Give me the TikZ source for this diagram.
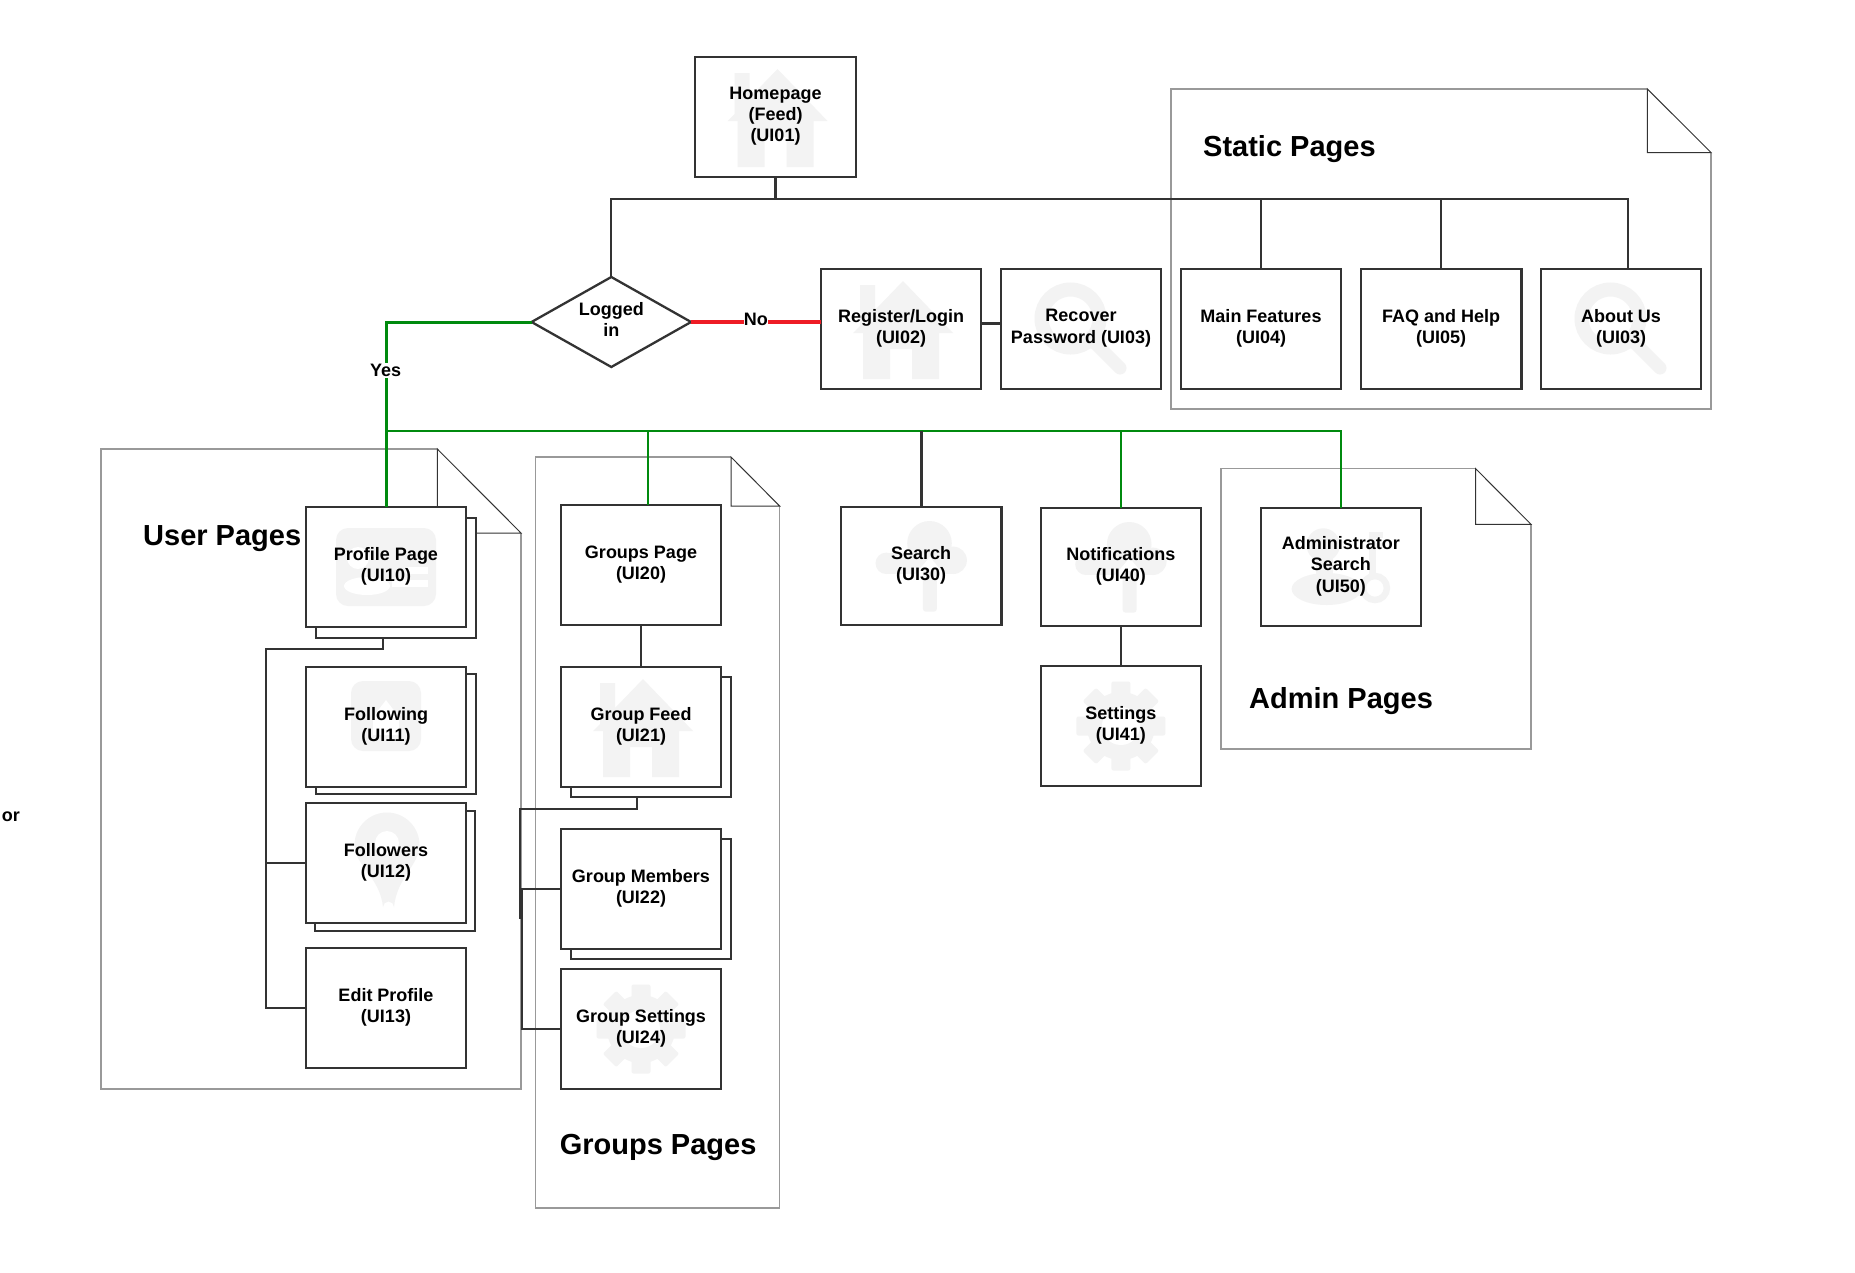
\documentclass[tikz,border=0pt]{standalone}
\usepackage{fontspec}
\setmainfont{Liberation Sans}
\usetikzlibrary{shapes.geometric}

\definecolor{linedark}{HTML}{333333}
\definecolor{sheetgray}{HTML}{999999}
\definecolor{ghost}{HTML}{F3F3F3}
\definecolor{yesgreen}{HTML}{008A0E}
\definecolor{nored}{HTML}{EE1C25}

\newcommand{\foldsheet}[6]{
    \fill[white] (#5,#2) -- (#1,#2) -- (#1,#4) -- (#3,#4) -- (#3,#6) -- cycle;
    \draw[sheet] (#5,#2) -- (#1,#2) -- (#1,#4) -- (#3,#4) -- (#3,#6);
    \draw[foldline] (#5,#2) -- (#3,#6) -- (#5,#6) -- cycle;
}
\newcommand{\uipage}[5][]{
    \node[uibox, #1] (#2) at (#3) {};
    \pic at (#2) {#4};
    \node[boxtext] (#2text) at (#2) {#5};
}

\tikzset{
    uibox/.style={draw=linedark, fill=white, line width=2.3pt, inner sep=0pt, outer sep=0pt,
        minimum width=160.5pt, minimum height=120.5pt},
    boxtext/.style={inner sep=0pt, yshift=0.7pt, align=center, font=\bfseries\fontsize{18}{21.3}\selectfont},
    stacked/.style={draw=linedark, fill=white, line width=2.3pt, inner sep=0pt, outer sep=0pt,
        minimum width=160.5pt, minimum height=120pt},
    decision/.style={uibox, shape=diamond, minimum width=159.5pt, minimum height=90pt},
    title/.style={anchor=base west, inner sep=0pt, font=\bfseries\fontsize{29}{32}\selectfont},
    edgetext/.style={fill=white, inner sep=1pt, font=\bfseries\fontsize{18}{21.6}\selectfont},
    link/.style={draw=linedark, line width=2.2pt},
    yesthick/.style={draw=yesgreen, line width=3pt},
    yesthin/.style={draw=yesgreen, line width=2pt},
    nolink/.style={draw=nored, line width=3.2pt},
    sheet/.style={draw=sheetgray, line width=1.6pt},
    foldline/.style={draw=linedark, line width=1pt, fill=white},
    blankicon/.pic={},
    houseicon/.pic={
        \fill[ghost] (2,-48) -- (52,4) -- (38,4) -- (38,50) -- (11,50) -- (11,20) -- (-11,20) -- (-11,50) -- (-38,50) -- (-38,4) -- (-48,4) -- (-41,-3) -- (-41,-44) -- (-26,-44) -- (-26,-19) -- cycle;
    },
    lensicon/.pic={
        \draw[ghost, line width=14pt] (-10.5,-10.5) circle (29);
        \draw[ghost, line width=13pt, line cap=round] (11,11) -- (39,39);
    },
    cardicon/.pic={
        \fill[ghost, rounded corners=12pt] (-50,-39) rectangle (50,39);
        \fill[white] (-28,-9) circle (11);
        \fill[white] (-19,19) ellipse (23 and 9);
        \fill[white] (6,13) rectangle (42,20);
        \fill[white] (20,0) rectangle (42,7);
    },
    followicon/.pic={
        \fill[ghost, rounded corners=12pt] (-35,-46) rectangle (35,24);
        \fill[white] (0,-27) -- (13,-10) -- (13,8) -- (-13,8) -- (-13,-10) -- cycle;
    },
    pinicon/.pic={
        \fill[ghost] (-31.5,-18) arc (180:360:32.5) .. controls (33.5,2) and (11,14) .. (8,44) arc (360:180:5.5) .. controls (-6,14) and (-31.5,2) .. cycle;
        \fill[white] (1,-20) circle (12);
    },
    cloudicon/.pic={
        \fill[ghost] (8.3,-22.7) circle (22.3);
        \fill[ghost] (-35,-2.7) circle (10.7);
        \fill[ghost] (32,-5.7) circle (13.7);
        \fill[ghost] (-35,-13) rectangle (32,8);
        \fill[white] (8.7,-9) -- (23,8) -- (-6,8) -- cycle;
        \fill[ghost, rounded corners=3pt] (1.7,4) rectangle (15.7,45.7);
    },
    gearicon/.pic={
        \fill[ghost] (0,0) circle (34);
        \foreach \gearangle in {0,45,...,315}
            \fill[ghost, rounded corners=2pt, rotate=\gearangle] (-9.5,-44.5) rectangle (9.5,-28);
        \fill[white] (0,0) circle (19);
    },
    adminicon/.pic={
        \fill[ghost] (-17.7,-22) circle (16.7);
        \fill[ghost] (-14.3,22) ellipse (35 and 16);
        \fill[ghost] (-25,-10) rectangle (-8,14);
        \draw[ghost, line width=6.5pt] (34,21) circle (12);
        \fill[ghost] (28,-35) rectangle (35,10);
        \fill[ghost] (35,-35) rectangle (42,-29);
        \fill[ghost] (35,-24) rectangle (41,-19);
    }
}

\begin{document}
\begin{tikzpicture}[x=1pt, y=-1pt]
                        \useasboundingbox (0,0) rectangle (1855,1272);

                        \foldsheet{1170.7}{89}{1711}{409}{1647.4}{152.5}
                        \foldsheet{101}{449}{521}{1089}{437.3}{533}
                        \foldsheet{535.3}{457}{779.6}{1208}{731}{506}
                        \foldsheet{1221}{468.5}{1531}{748.7}{1475.5}{524.3}

                        \node[title] (statictitle) at (1203,156) {Static Pages};
                        \node[title] (usertitle) at (143,545) {User Pages};
                        \node[title] (groupstitle) at (559.6,1154) {Groups Pages};
                        \node[title] (admintitle) at (1249,708.5) {Admin Pages};
                        \node[edgetext, fill=none, anchor=east] (cutoff) at (21,817) {or};

                        \uipage{ui01}{775.5,117}{houseicon}{Homepage\\(Feed)\\(UI01)}
                        \node[decision] (logged) at (611.3,322) {};
                        \node[boxtext, yshift=2pt] (loggedtext) at (logged) {Logged\\in};
                        \uipage{ui02}{901,329}{houseicon}{Register/Login\\(UI02)}
                        \uipage{ui03}{1081,329}{lensicon}{Recover\\Password (UI03)}
                        \uipage{ui04}{1261,329}{blankicon}{Main Features\\(UI04)}
                        \uipage{ui05}{1441.2,329}{blankicon}{FAQ and Help\\(UI05)}
                        \uipage{ui06}{1621,329}{lensicon}{About Us\\(UI03)}

                        \node[stacked] (ui10s) at (396,578) {};
                        \node[stacked] (ui11s) at (396,733.8) {};
                        \node[stacked] (ui12s) at (395,871) {};
                        \uipage{ui10}{386,567}{cardicon}{Profile Page\\(UI10)}
                        \uipage{ui11}{386,727}{followicon}{Following\\(UI11)}
                        \uipage{ui12}{386,863}{pinicon}{Followers\\(UI12)}
                        \uipage{ui13}{386,1008}{blankicon}{Edit Profile\\(UI13)}

                        \uipage{ui20}{641,565}{blankicon}{Groups Page\\(UI20)}
                        \node[stacked] (ui21s) at (651,737) {};
                        \node[stacked] (ui22s) at (651,899) {};
                        \uipage{ui21}{641,727}{houseicon}{Group Feed\\(UI21)}
                        \uipage{ui22}{641,889}{blankicon}{Group Members\\(UI22)}
                        \uipage{ui24}{641,1029}{gearicon}{Group Settings\\(UI24)}

                        \uipage[minimum height=118pt]{ui30}{921.2,566}{cloudicon}{Search\\(UI30)}
                        \uipage[minimum height=118pt]{ui40}{1120.9,567}{cloudicon}{Notifications\\(UI40)}
                        \uipage{ui41}{1120.9,726}{gearicon}{Settings\\(UI41)}
                        \uipage[minimum height=118pt]{ui50}{1340.9,567}{adminicon}{Administrator\\Search\\(UI50)}

                        \coordinate (topbus) at (775.5,199);
                        \coordinate (greenbus) at (386.7,430.7);
                        \coordinate (userbus) at (266,649);
                        \coordinate (groupbus) at (520,809);
                        \coordinate (groupstub) at (520,919);
                        \coordinate (groupjoin) at (521.7,889);

                        \draw[link] (ui01.south) -- (topbus);
                        \draw[link] (logged.north) |- (topbus);
                        \draw[link] (topbus) -| (ui04.north);
                        \draw[link] (topbus) -| (ui05.north);
                        \draw[link] (topbus) -| ([xshift=7pt]ui06.north);

                        \draw[nolink] (logged.east) -- node[edgetext, inner sep=0pt, yshift=3pt] (nolabel) {No} (logged.east -| ui02.west);
                        \draw[link, line width=2.6pt] ([yshift=5.3pt]ui02.east) -- ([yshift=5.3pt]ui03.west);

                        \draw[yesthick] (logged.west) -| (ui10.north);
                        \node[edgetext] (yeslabel) at (385.7,370.7) {Yes};
                        \draw[yesthin] (greenbus) -| (ui50.north);
                        \draw[yesthin] (greenbus) -| ([xshift=7.3pt]ui20.north);
                        \draw[yesthin] (greenbus) -| (ui40.north);
                        \draw[link, line width=2.6pt] (greenbus -| ui30.north) -- (ui30.north);

                        \draw[link] ([xshift=-12.7pt]ui10s.south) |- (userbus) |- (ui13.west);
                        \draw[link] (userbus |- ui12.west) -- (ui12.west);
                        \draw[link] (ui20.south) -- (ui21.north);
                        \draw[link] ([xshift=-14pt]ui21s.south) |- (groupbus) -- (groupstub);
                        \draw[link] (ui22.west) -- (groupjoin) |- (ui24.west);
                        \draw[link, line width=2.6pt] (ui40.south) -- (ui41.north);

                    \end{tikzpicture}
\end{document}
